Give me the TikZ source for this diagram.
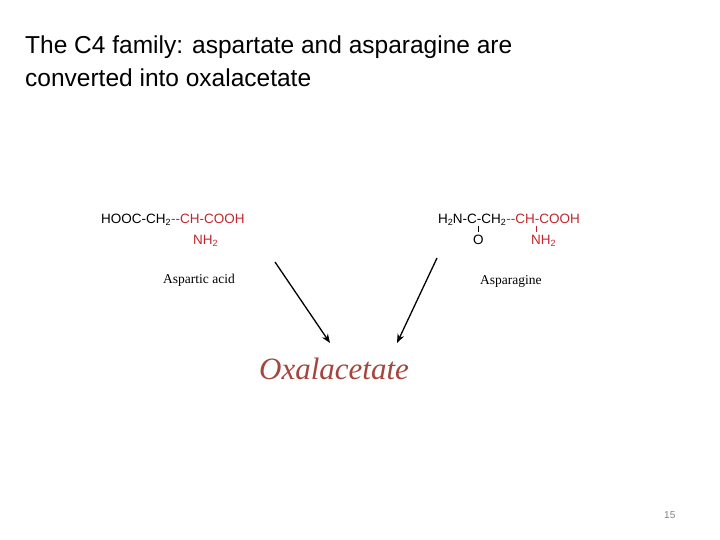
\documentclass[tikz,border=0pt]{standalone}
\usepackage{fontspec}
\usetikzlibrary{arrows.meta}
\setmainfont{Liberation Serif}
\newfontfamily\arial{Liberation Sans}
\definecolor{fred}{HTML}{C0272D}
\definecolor{oxred}{HTML}{A5453E}
\newcommand{\sbs}[1]{\raisebox{-0.35ex}{\fontsize{9}{10}\selectfont #1}}
\begin{document}
\begin{tikzpicture}[x=1pt,y=-1pt,
  title/.style={font=\arial\fontsize{24.5}{28}\selectfont, anchor=base west, inner sep=0},
  formula/.style={font=\arial\fontsize{13.5}{15}\selectfont, anchor=base west, inner sep=0},
  label/.style={font=\fontsize{13.5}{15}\selectfont, anchor=base west, inner sep=0},
  arr/.style={-{Stealth[length=9pt,width=7pt]}, line width=1.3pt}]
\useasboundingbox (0,0) rectangle (720,540);
\node[title] (t1) at (25,54) {The C4 family: aspartate and asparagine are};
\node[title] (t2) at (25,87) {converted into oxalacetate};
% aspartic acid
\node[formula] (a1) at (101,223) {HOOC-CH\sbs{2}};
\node[formula,text=fred] (a2) at (a1.base east) {--CH-COOH};
\node[formula,text=fred] (a3) at (193,244) {NH\sbs{2}};
\node[label] (la) at (163,283) {Aspartic acid};
% asparagine
\node[formula] (b1) at (438,223) {H\sbs{2}N-C-CH\sbs{2}};
\node[formula,text=fred] (b2) at (b1.base east) {--CH-COOH};
\node[formula] (b3) at (473,244) {O};
\node[formula,text=fred] (b4) at (531,244) {NH\sbs{2}};
\coordinate (c1) at (478.5,226); \coordinate (c2) at (478.5,232);
\draw[line width=0.8pt] (c1) -- (c2);
\coordinate (d1) at (536.5,226); \coordinate (d2) at (536.5,232);
\draw[line width=0.8pt, fred] (d1) -- (d2);
\node[label] (lb) at (480,284) {Asparagine};
% product
\node[font=\itshape\fontsize{31}{34}\selectfont, text=oxred, anchor=base west, inner sep=0] (ox) at (259,379) {Oxalacetate};
\coordinate (s1) at (275,262); \coordinate (e1) at (330,343);
\coordinate (s2) at (437,258); \coordinate (e2) at (397,343);
\draw[arr] (s1) -- (e1);
\draw[arr] (s2) -- (e2);
\node[font=\arial\fontsize{10}{12}\selectfont, text=gray, anchor=base west, inner sep=0] (pg) at (664,518) {15};
\end{tikzpicture}
\end{document}
